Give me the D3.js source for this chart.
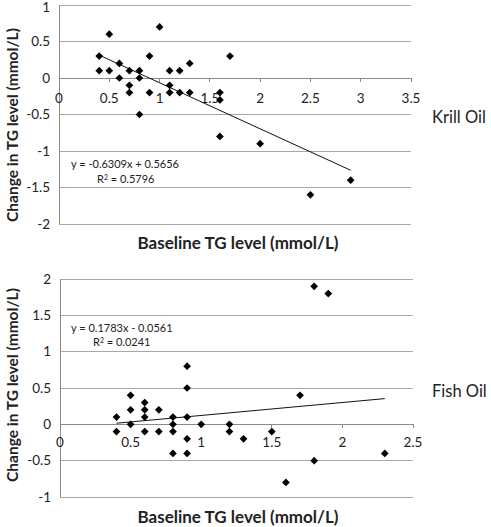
<!DOCTYPE html>
<html><head><meta charset="utf-8">
<script src="https://cdn.jsdelivr.net/npm/d3@7"></script>
<style>
body{margin:0;background:#fff;}
svg{display:block;font-family:Lato,"Open Sans",sans-serif;}
</style></head>
<body><svg id="c" width="491" height="527"></svg>
<script>
// Krill oil data
const krillX = [0.4,0.4,0.5,0.5,0.6,0.6,0.7,0.7,0.7,0.8,0.8,0.8,0.9,0.9,1.0,1.1,1.1,1.1,1.2,1.2,1.3,1.3,1.6,1.6,1.7,1.6,2.0,2.5,2.9];
const krillY = [0.3,0.1,0.6,0.1,0.2,0.0,0.1,-0.1,-0.2,0.1,0.0,-0.5,0.3,-0.2,0.7,0.1,-0.1,-0.2,0.1,-0.2,0.2,-0.2,-0.2,-0.3,0.3,-0.8,-0.9,-1.6,-1.4];
// Fish oil data
const fishX = [0.4,0.4,0.5,0.5,0.5,0.6,0.6,0.6,0.6,0.7,0.7,0.8,0.8,0.8,0.8,0.9,0.9,0.9,0.9,0.9,1.0,1.2,1.2,1.3,1.5,1.6,1.7,1.8,1.8,1.9,2.3];
const fishY = [0.1,-0.1,0.4,0.2,0.0,0.3,0.2,0.1,-0.1,0.2,-0.1,0.1,0.0,-0.1,-0.4,0.8,0.5,0.1,-0.2,-0.4,0.0,0.0,-0.1,-0.2,-0.1,-0.8,0.4,-0.5,1.9,1.8,-0.4];
// Trendlines
const krillFit = {slope:-0.6309, intercept:0.5656, eq:"y = -0.6309x + 0.5656", r2:"0.5796"};
const fishFit = {slope:0.1783, intercept:-0.0561, eq:"y = 0.1783x - 0.0561", r2:"0.0241"};
// Tick values
const krillXTicks = [0,0.5,1,1.5,2,2.5,3,3.5];
const krillYTicks = [1,0.5,0,-0.5,-1,-1.5,-2];
const fishXTicks = [0,0.5,1,1.5,2,2.5];
const fishYTicks = [2,1.5,1,0.5,0,-0.5,-1];
const xTitle = "Baseline TG level (mmol/L)";
const yTitle = "Change in TG level (mmol/L)";

const svg = d3.select("#c");

function panel(cfg){
  const x = d3.scaleLinear().domain(cfg.xd).range(cfg.xr);
  const y = d3.scaleLinear().domain(cfg.yd).range(cfg.yr);
  const g = svg.append("g");
  g.selectAll("line.grid").data(cfg.yTicks).join("line")
    .attr("x1",cfg.xr[0]).attr("x2",cfg.xr[1])
    .attr("y1",d=>y(d)).attr("y2",d=>y(d))
    .attr("stroke", d=> d===0 ? "#8a8a8a" : "#a8a8a8").attr("stroke-width",1).attr("shape-rendering","crispEdges");
  g.append("line").attr("x1",cfg.xr[0]).attr("x2",cfg.xr[0]).attr("y1",cfg.yr[0]).attr("y2",cfg.yr[1])
    .attr("stroke","#8a8a8a").attr("shape-rendering","crispEdges");
  g.selectAll("text.yl").data(cfg.yTicks).join("text")
    .attr("x",cfg.xr[0]-9).attr("y",d=>Math.max(y(d),7)).attr("dy","0.35em")
    .attr("text-anchor","end").attr("font-size",13.5).attr("fill","#222").text(d=>d);
  g.selectAll("line.xt").data(cfg.xTicks).join("line")
    .attr("x1",d=>x(d)).attr("x2",d=>x(d)).attr("y1",y(0)).attr("y2",y(0)+4)
    .attr("stroke","#8a8a8a").attr("shape-rendering","crispEdges");
  g.selectAll("text.xl").data(cfg.xTicks).join("text")
    .attr("x",d=>x(d)).attr("y",y(0)+cfg.xlOff).attr("dy","0.35em")
    .attr("text-anchor","middle").attr("font-size",13.5).attr("fill","#222").text(d=>d);
  const x0 = d3.min(cfg.px), x1 = d3.max(cfg.px);
  g.append("line").attr("x1",x(x0)).attr("y1",y(cfg.fit.slope*x0+cfg.fit.intercept))
    .attr("x2",x(x1)).attr("y2",y(cfg.fit.slope*x1+cfg.fit.intercept))
    .attr("stroke","#111").attr("stroke-width",1);
  const sym = d3.symbol().type(d3.symbolSquare).size(30);
  g.selectAll("path.pt").data(cfg.px.map((v,i)=>[v,cfg.py[i]])).join("path")
    .attr("d",sym).attr("fill","#000")
    .attr("transform",d=>`translate(${x(d[0])},${y(d[1])}) rotate(45)`);
  g.append("text").attr("x",cfg.eqPos[0]).attr("y",cfg.eqPos[1]).attr("dy","0.35em")
    .attr("font-size",11).attr("fill","#222").text(cfg.fit.eq);
  const r = g.append("text").attr("x",cfg.r2Pos[0]).attr("y",cfg.r2Pos[1]).attr("dy","0.35em")
    .attr("font-size",11).attr("fill","#222");
  r.append("tspan").text("R");
  r.append("tspan").attr("font-size",7).attr("dy","-0.45em").text("2");
  r.append("tspan").attr("dy","0.3em").text(" = "+cfg.fit.r2);
  g.append("text").attr("x",238).attr("y",cfg.xTitleY).attr("dy","0.35em")
    .attr("text-anchor","middle").attr("font-size",17).attr("font-weight","bold").attr("fill","#222").text(xTitle);
  g.append("text").attr("transform",`translate(13,${cfg.yTitleY}) rotate(-90)`).attr("dy","0.35em")
    .attr("text-anchor","middle").attr("font-size",15.5).attr("font-weight","bold").attr("fill","#222").text(yTitle);
  g.append("text").attr("x",432).attr("y",cfg.labelY).attr("dy","0.35em")
    .attr("font-size",16.5).attr("fill","#222").text(cfg.label);
}

panel({xd:[0,3.5], xr:[59,411], yd:[-2,1], yr:[224,5], xTicks:krillXTicks, yTicks:krillYTicks,
  px:krillX, py:krillY, fit:krillFit, eqPos:[71,164], r2Pos:[97,179], xTitleY:243, yTitleY:125, labelY:117,
  label:"Krill Oil", xlOff:20});
panel({xd:[0,2.5], xr:[60,413], yd:[-1,2], yr:[497,279], xTicks:fishXTicks, yTicks:fishYTicks,
  px:fishX, py:fishY, fit:fishFit, eqPos:[71,328], r2Pos:[93,342], xTitleY:517, yTitleY:385, labelY:391,
  label:"Fish Oil", xlOff:18});
</script></body></html>
